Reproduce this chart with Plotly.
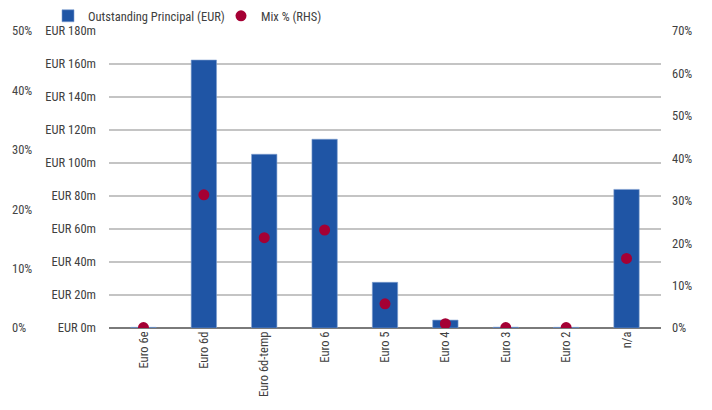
import plotly.graph_objects as go

categories = ["Euro 6e", "Euro 6d", "Euro 6d-temp", "Euro 6", "Euro 5",
              "Euro 4", "Euro 3", "Euro 2", "n/a"]
principal_m = [0.4, 162.4, 105.3, 114.4, 27.7, 4.8, 0.5, 0.4, 84.0]
mix_pct = [0.1, 31.4, 21.3, 23.1, 5.7, 1.0, 0.1, 0.1, 16.4]

FONT = "Liberation Sans Narrow, Arial Narrow, Roboto Condensed, DejaVu Sans Condensed, sans-serif"
TXT = "#404040"
GRID = "#c4c4c4"
W, H = 712, 410
x0, x1 = 109 / W, 661 / W

fig = go.Figure()
fig.add_trace(go.Bar(
    x=categories, y=principal_m, name="Outstanding Principal (EUR)",
    marker=dict(color="#1F55A5", line=dict(color="#7f9fd0", width=0.6)),
    yaxis="y",
))
fig.add_trace(go.Scatter(
    x=categories, y=mix_pct, name="Mix % (RHS)", mode="markers",
    marker=dict(color="#A50034", size=11),
    yaxis="y2",
))
# invisible trace for far-left percent axis
fig.add_trace(go.Scatter(x=categories, y=[None] * len(categories),
                         yaxis="y3", showlegend=False, hoverinfo="skip"))

fig.update_layout(
    width=W, height=H,
    margin=dict(l=0, r=0, t=31, b=82, autoexpand=False),
    paper_bgcolor="white", plot_bgcolor="white",
    font=dict(family=FONT, size=12.5, color=TXT),
    bargap=0.58,
    showlegend=True,
    legend=dict(orientation="h", x=48 / W, xanchor="left",
                y=1.05, yanchor="middle", font=dict(size=12.5, color=TXT),
                itemwidth=30, entrywidth=128, entrywidthmode="pixels",
                bgcolor="rgba(0,0,0,0)"),
    xaxis=dict(domain=[x0, x1], tickangle=-90, showgrid=False, ticks="",
               showline=False, zeroline=False, tickfont=dict(size=12.5),
               automargin=False),
    yaxis=dict(range=[0, 180], tick0=0, dtick=20,
               tickprefix="EUR ", ticksuffix="m",
               showgrid=True, gridcolor=GRID, gridwidth=1.5,
               zeroline=True, zerolinecolor="#7a7a7a", zerolinewidth=1.5,
               showline=False, ticks="", ticklabelstandoff=12,
               automargin=False),
    yaxis2=dict(range=[0, 70], tick0=0, dtick=10, ticksuffix="%",
                overlaying="y", side="right", anchor="x", showgrid=False,
                zeroline=False, showline=False, ticks="", ticklabelstandoff=10,
                automargin=False),
    yaxis3=dict(range=[0, 50], tick0=0, dtick=10, ticksuffix="%",
                overlaying="y", side="left", anchor="free", position=8 / W,
                ticklabelposition="inside", ticklabeloverflow="allow",
                showgrid=False, zeroline=False,
                showline=False, ticks="", automargin=False),
)

fig.write_html("out.html")
